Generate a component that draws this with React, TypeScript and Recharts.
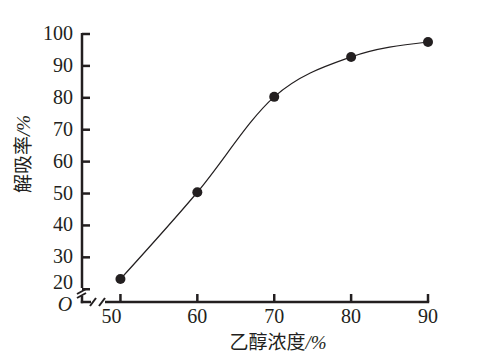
import React from 'react';
import { LineChart, Line, XAxis, YAxis } from 'recharts';

// 乙醇浓度 (%) 与 解吸率 (%)
const ethanolConc = [50, 60, 70, 80, 90];
const desorptionRate = [23.2, 50.4, 80.3, 92.8, 97.5];
const xTicks = [50, 60, 70, 80, 90];
const yTicks = [20, 30, 40, 50, 60, 70, 80, 90, 100];

const data = ethanolConc.map((c, i) => ({ conc: c, rate: desorptionRate[i] }));

const W = 489;
const H = 357;
const TOP = 34;
const RIGHT = 61;
const Y_W = 82;
const X_H = 55;
const INK = '#231f20';
const SERIF = '"Liberation Serif", "DejaVu Serif", serif';
const CJK = '"Noto Sans CJK SC", sans-serif';

const L = Y_W;
const B = H - X_H;
const R = W - RIGHT;

const XTick = ({ x, y, payload, index }: any) => (
  <g>
    <line x1={x} y1={y} x2={x} y2={y - 8} stroke={INK} strokeWidth={2.5} />
    <text
      x={x + (index === 0 ? -9 : 0)}
      y={y + 21}
      textAnchor="middle"
      fontFamily={SERIF}
      fontSize={20}
      fill={INK}
    >
      {payload.value}
    </text>
  </g>
);

const YTick = ({ x, y, payload }: any) => (
  <g>
    <line x1={x} y1={y} x2={x + 8} y2={y} stroke={INK} strokeWidth={2.5} />
    <text
      x={x - 9}
      y={y + (payload.value === 20 ? 0 : 6)}
      textAnchor="end"
      fontFamily={SERIF}
      fontSize={20}
      fill={INK}
    >
      {payload.value}
    </text>
  </g>
);

const App: React.FC = () => {
  return (
    <div style={{ position: 'absolute', left: 0, top: 0, width: W, height: H }}>
      <LineChart width={W} height={H} data={data} margin={{ top: TOP, right: RIGHT, left: 0, bottom: 0 }}>
        <XAxis
          dataKey="conc"
          type="number"
          domain={[45, 90]}
          ticks={xTicks}
          axisLine={false}
          tickLine={false}
          tickSize={0}
          tickMargin={0}
          height={X_H}
          tick={<XTick />}
          interval={0}
        />
        <YAxis
          type="number"
          domain={[16, 100]}
          ticks={yTicks}
          axisLine={false}
          tickLine={false}
          tickSize={0}
          tickMargin={0}
          width={Y_W}
          tick={<YTick />}
          interval={0}
        />
        <Line
          type="monotone"
          dataKey="rate"
          stroke={INK}
          strokeWidth={1.2}
          dot={{ r: 5, fill: INK, stroke: INK, strokeWidth: 0 }}
          isAnimationActive={false}
        />
      </LineChart>
      <svg
        width={W}
        height={H}
        style={{ position: 'absolute', left: 0, top: 0, pointerEvents: 'none' }}
      >
        {/* axis lines with breaks */}
        <g stroke={INK} strokeWidth={2.5} fill="none">
          <line x1={L} y1={TOP - 1} x2={L} y2={B - 14} />
          <line x1={L} y1={B - 6} x2={L} y2={B + 1.2} />
          <line x1={L - 1.2} y1={B} x2={L + 9} y2={B} />
          <line x1={L + 23} y1={B} x2={R + 1.2} y2={B} />
          <line x1={L - 5} y1={B - 8} x2={L + 4} y2={B - 13} strokeWidth={2} />
          <line x1={L - 5} y1={B - 4} x2={L + 4} y2={B - 9} strokeWidth={2} />
          <line x1={L + 8} y1={B + 4} x2={L + 14} y2={B - 4} strokeWidth={2} />
          <line x1={L + 17} y1={B + 4} x2={L + 23} y2={B - 4} strokeWidth={2} />
        </g>
        <text x={65} y={B + 9} textAnchor="middle" fontFamily={SERIF} fontStyle="italic" fontSize={20} fill={INK}>
          O
        </text>
        <text x={278} y={349} textAnchor="middle" fontSize={19} fill={INK}>
          <tspan fontFamily={CJK}>乙醇浓度</tspan>
          <tspan fontFamily={SERIF} fontStyle="italic">/%</tspan>
        </text>
        <text
          x={0}
          y={0}
          transform={`translate(30, 154) rotate(-90)`}
          textAnchor="middle"
          fontSize={19}
          fill={INK}
        >
          <tspan fontFamily={CJK}>解吸率</tspan>
          <tspan fontFamily={SERIF} fontStyle="italic">/%</tspan>
        </text>
      </svg>
    </div>
  );
};

export default App;
